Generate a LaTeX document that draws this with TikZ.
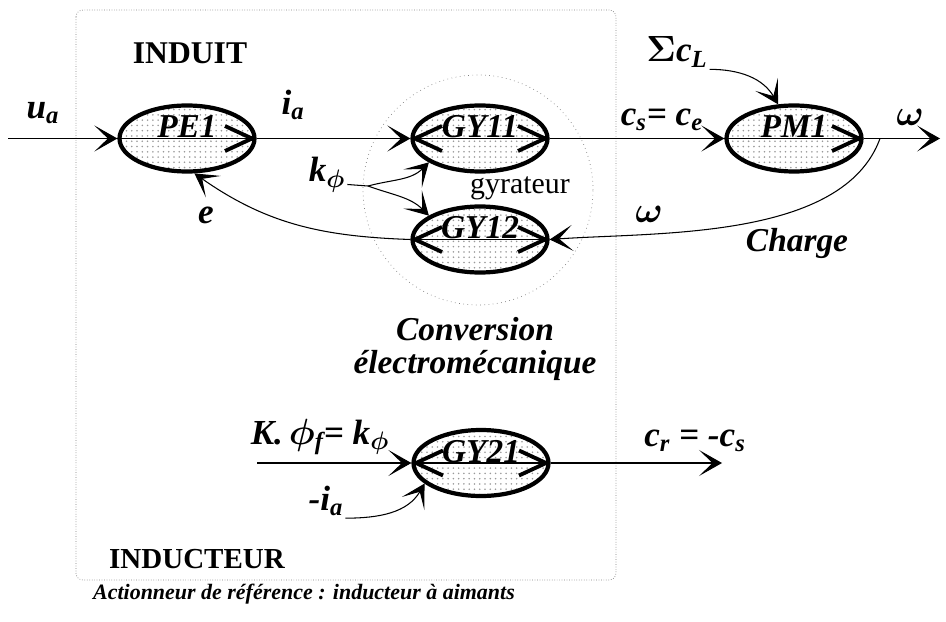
\documentclass[tikz,border=0pt]{standalone}
\usepackage{fontspec}
\setmainfont{Liberation Serif}
\usepackage{amsmath}
\usepackage{tikz}
\usetikzlibrary{shapes, arrows.meta, positioning, patterns}

\newcommand{\bsym}[1]{$\boldsymbol{#1}$}

\begin{document}
\begin{tikzpicture}[node distance=2.02cm]
        % Styles
        \tikzstyle{elem} = [draw, ellipse, line width=2.4pt, minimum width=2.7cm, minimum height=1.32cm, inner sep=0pt, pattern=dots, pattern color=gray!80, font=\fontsize{19}{19}\selectfont\bfseries\itshape, text height=0.7em, text depth=0.78em]
        \tikzstyle{arrow} = [-{Stealth[length=4.6mm, width=5.2mm, inset=2.7mm]}, semithick]
        \tikzstyle{onew} = [line width=1.1pt, -{Straight Barb[length=5.4mm, width=5mm, line width=2.2pt]}]
        \tikzstyle{twow} = [line width=1.1pt, {Straight Barb[length=5.4mm, width=5mm, line width=2.2pt]}-{Straight Barb[length=5.4mm, width=5mm, line width=2.2pt]}]
        \tikzstyle{lab} = [font=\fontsize{20}{22}\selectfont\bfseries\itshape, inner sep=1pt]
        \tikzstyle{title} = [font=\fontsize{18}{20}\selectfont\bfseries, inner sep=1pt]

        \useasboundingbox (0,0) rectangle (18.92,-12.42);

        % Frame and gyrator circle
        \draw [densely dotted, gray, rounded corners=4pt] (1.52,-0.2) rectangle (12.32,-11.6);
        \draw [dotted, gray] (9.56,-3.8) circle (2.3);

        % Nodes
        \node [elem] (pe1) at (3.74,-2.77) {PE1};
        \node [elem] (gy11) at (9.6,-2.77) {GY11};
        \node [elem, below of=gy11] (gy12) {GY12};
        \node [elem] (pm1) at (15.88,-2.77) {PM1};
        \node [elem] (gy21) at (9.62,-9.26) {GY21};

        \coordinate (uin) at (0.16,-2.77);
        \coordinate (wout) at (18.8,-2.77);
        \coordinate (wtap) at (17.6,-2.77);
        \coordinate (kj) at (7.36,-3.72);
        \coordinate (kin) at (5.14,-9.26);
        \coordinate (crout) at (14.44,-9.26);

        % Labels
        \node [title] (induit) at (3.8,-1.06) {INDUIT};
        \node [title, font=\fontsize{16.5}{18}\selectfont\bfseries] (inducteur) at (3.94,-11.18) {INDUCTEUR};
        \node [lab] (ua) at (0.86,-2.26) {u\textsubscript{a}};
        \node [lab] (ia) at (5.86,-2.1) {i\textsubscript{a}};
        \node [lab] (kphi) at (6.54,-3.5) {k\textsubscript{\bsym{\phi}}};
        \node [lab] (e) at (4.12,-4.3) {e};
        \node [font=\fontsize{17}{17}\selectfont] (gyr) at (10.4,-3.76) {gyrateur};
        \node [lab] (csce) at (13.24,-2.4) {c\textsubscript{s}= c\textsubscript{e}};
        \node [lab] (scl) at (13.54,-1.04) {\bsym{\Sigma}c\textsubscript{L}};
        \node [lab] (w1) at (18.2,-2.34) {\bsym{\omega}};
        \node [lab] (w2) at (12.98,-4.28) {\bsym{\omega}};
        \node [lab, font=\fontsize{19}{21}\selectfont\bfseries\itshape] (chg) at (15.94,-4.86) {Charge};
        \node [lab, align=center, font=\fontsize{19}{19}\selectfont\bfseries\itshape] (conv) at (9.5,-6.98) {Conversion\\électromécanique};
        \node [lab] (kff) at (6.4,-8.74) {K.\,\bsym{\phi}\textsubscript{f}= k\textsubscript{\bsym{\phi}}};
        \node [lab] (mia) at (6.52,-10.02) {-i\textsubscript{a}};
        \node [lab] (crcs) at (13.9,-8.82) {c\textsubscript{r} = -c\textsubscript{s}};
        \node [lab, font=\fontsize{12.5}{15}\selectfont\bfseries\itshape] (cap) at (6.08,-11.88) {Actionneur de référence : inducteur à aimants};

        % Inner arrows
        \draw [onew] (pe1.west) -- (pe1.east);
        \draw [twow] (gy11.west) -- (gy11.east);
        \draw [twow] (gy12.west) -- (gy12.east);
        \draw [onew] (pm1.west) -- (pm1.east);
        \draw [twow] (gy21.west) -- (gy21.east);

        % Arrows
        \draw [arrow] (uin) -- (pe1);
        \draw [arrow] (pe1) -- (gy11);
        \draw [arrow] (gy11) -- (pm1);
        \draw [arrow] (pm1) -- (wout);
        \draw [arrow] (gy12.west) to[out=178, in=-35] (pe1.282);
        \draw [arrow] (wtap) to[out=-110, in=4, looseness=0.8] (gy12.east);
        \draw [semithick] (kphi.-25) -- (kj);
        \draw [arrow] (kj) to[out=15, in=-135] (gy11.205);
        \draw [arrow] (kj) to[out=-20, in=135] (gy12.155);
        \draw [arrow] (scl.south east) to[out=0, in=120] (pm1.115);
        \draw [arrow] (kin) -- (gy21);
        \draw [arrow] (mia.south east) to[out=0, in=-120] (gy21.200);
        \draw [arrow] (gy21) -- (crout);
    \end{tikzpicture}
\end{document}
